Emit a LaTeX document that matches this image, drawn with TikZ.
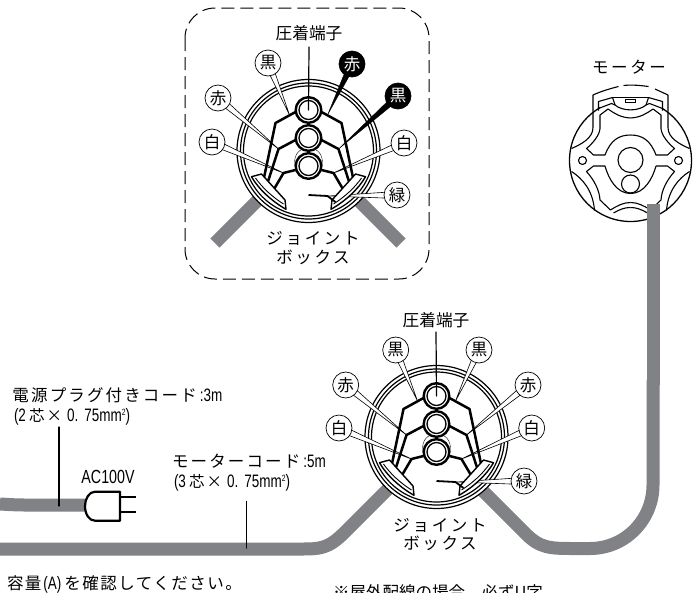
\documentclass[tikz,border=0pt]{standalone}
\usepackage{fontspec}
\setmainfont{Noto Sans CJK JP}
\newfontfamily\jpwide[LetterSpace=16]{Noto Sans CJK JP}
\newfontfamily\jpmid[LetterSpace=13]{Noto Sans CJK JP}
\newfontfamily\jpnote[LetterSpace=9]{Noto Sans CJK JP}
\newfontfamily\latn[FakeStretch=0.75]{Liberation Sans}
\newcommand\nar[1]{{\fontsize{18}{18}\latn #1}}
\newcommand\corelabel[1]{\nar{(#1}\hspace{3pt}{\fontsize{15.5}{16}\selectfont 芯\hspace{2pt}×}\hspace{5pt}\nar{0.\hspace{6pt}75mm\raisebox{6pt}{\fontsize{9}{9}\latn 2})}}
\usetikzlibrary{calc}
\pgfdeclarelayer{back}
\pgfdeclarelayer{mid}
\pgfsetlayers{back,mid,main}
\definecolor{cordgrey}{HTML}{808285}
\tikzset{
  x=1pt,y=-1pt,
  cord/.style={draw=cordgrey,line width=13pt},
  wire/.style={draw=black,line width=2.5pt,line join=round},
  ring/.style={draw=black,line width=1.2pt},
  mot/.style={draw=black,line width=1.1pt,line join=round},
  tag/.style={circle,draw=black,line width=0.7pt,fill=white,minimum size=26pt,inner sep=0pt,font=\fontsize{16.5}{16.5}\selectfont},
  blacktag/.style={circle,draw=black,line width=0.7pt,fill=black,text=white,minimum size=26pt,inner sep=0pt,font=\fontsize{16.5}{16.5}\selectfont},
  lab/.style={inner sep=0pt,outer sep=0pt,font=\fontsize{16.7}{16.7}\selectfont},
  spaced/.style={inner sep=0pt,outer sep=0pt,font=\fontsize{16.5}{16.5}\jpwide},
  leader/.style={draw=black,line width=1.2pt,line cap=round},
  wedgew/.style={fill=white,draw=black,line width=0.6pt,line join=round},
  wedgeb/.style={fill=black,draw=black,line width=0.3pt},
}
\newcommand\halfwires{%
  \draw[wire] (-13,-39) -- (-33,-28) -- (-45,29);
  \draw[wire] (-13,-11) -- (-30,-2) -- (-41,32);
  \draw[wire] (-13,19) -- (-25,22) -- (-35,39);
  \draw[fill=white,line width=1.4pt,line join=round] (-57,25.7) .. controls (-50,38) and (-37,50) .. (-22.5,58.3) -- (-23.5,49) -- (-47,23) -- cycle;
  \draw[line width=0.9pt] (-53,27) .. controls (-46,37) and (-36,46) .. (-25,53);
}
\newcommand\jointbody[1]{%
  \begin{pgfonlayer}{back}
    \draw[ring,fill=white] (0,0) circle[radius=71.5];
    \draw[ring] (0,0) circle[radius=68];
    \draw[ring] (0,0) circle[radius=65];
  \end{pgfonlayer}
  \coordinate (#1LA) at (-19,-36);
  \coordinate (#1LB) at (-30,-2);
  \coordinate (#1LC) at (-25,22);
  \coordinate (#1RA) at (19,-36);
  \coordinate (#1RB) at (30,-2);
  \coordinate (#1RC) at (25,22);
  \coordinate (#1G) at (20,45);
  \coordinate (#1T) at (0,-41);
  \draw[line width=0.4pt] (-14,15) .. controls (-15,2) and (-8,-3) .. (0,-3) .. controls (8,-3) and (15,2) .. (14,15);
  \halfwires
  \begin{scope}[xscale=-1]\halfwires\end{scope}
  \draw[line width=1.8pt] (0,44) -- (19,45) -- (27,51);
  \foreach \yy in {-41,-13,15}{
    \draw[line width=2.4pt,fill=white] (0,\yy) circle[radius=12.8];
    \draw[line width=1.3pt] (0,\yy) circle[radius=9.5];
  }
}
\newcommand\wedgeto[3]{%
  \begin{pgfonlayer}{mid}
  \path[#3] ($(#1)!3.5pt!90:(#2)$) -- (#2) -- ($(#1)!3.5pt!-90:(#2)$) -- cycle;
  \end{pgfonlayer}
}
\newcommand\halfmotor{%
  \draw[mot] (-37.5,-49) -- (-37.5,-33) .. controls (-37.5,-22) and (-50,-16) .. (-59,-12);
  \draw[mot] (-32,-50) -- (-32,-59) -- (-18,-63) -- (-15.5,-55.5);
  \draw[mot] (-32,-52) -- (-19,-57) -- (-15.5,-55.5);
  \draw[mot] (0,-42.5) .. controls (-10,-43) and (-16,-47) .. (-22.5,-51.5) -- (-30.5,-45.5) -- (-30.5,-32) .. controls (-31,-25) and (-38,-17) .. (-44,-12) -- (-37,-5.5) -- (-25.5,-5.5) .. controls (-20,-20) and (-12,-25.5) .. (0,-25.5);
  \draw[mot] (-25.5,5.5) -- (-37,5.5) -- (-44,11) .. controls (-36,20) and (-31,30) .. (-30.5,39.5) -- (-20,49.5) .. controls (-13,45) and (-7,42) .. (0,42);
  \draw[mot] (-25.5,5.5) .. controls (-22,18) and (-14,33) .. (0,33);
  \draw[mot] (-17,52.5) .. controls (-11,49) and (-6,47) .. (0,47);
  \draw[mot] (-59,11) .. controls (-48,18) and (-37.5,30) .. (-36,50);
  \draw[mot] (-48,0) circle[radius=4];
}
\begin{document}
\begin{tikzpicture}
\useasboundingbox (0,0) rectangle (696,592);
\begin{pgfonlayer}{back}
  \fill[white] (0,0) rectangle (696,592);
  \draw[line width=1pt,dash pattern=on 13pt off 6pt,rounded corners=30pt] (185,8) rectangle (429,279);
  \draw[cord] (215,243) -- (270,188);
  \draw[cord] (401,243) -- (345,187);
  \draw[cord] (0,549) -- (300,549) .. controls (320,549) and (328,549) .. (345,532) -- (400,477);
  \draw[cord] (470,478) -- (525,533) .. controls (540,548.5) and (550,548.5) .. (575,548.5) -- (590,548.5) .. controls (625,548.5) and (653,520) .. (653,485) -- (653,380);
  \draw[cord] (0,504) .. controls (10,504.5) and (15,505) .. (25,505) -- (90,505);
\end{pgfonlayer}
\begin{scope}[shift={(308.5,151)}]\jointbody{a}\end{scope}
\begin{scope}[shift={(436.5,437)}]\jointbody{b}\end{scope}

\begin{scope}[shift={(630.5,160.5)}]
  \draw[line width=1.3pt,fill=white] (0,0) circle[radius=61];
  \fill[white] (-31,-66) rectangle (31,-44);
  \halfmotor
  \begin{scope}[xscale=-1]\halfmotor\end{scope}
  \draw[mot] (-18,-63) -- (18,-63);
  \draw[mot] (-15.5,-55.5) .. controls (-8,-49) and (8,-49) .. (15.5,-55.5);
  \draw[mot] (-37.5,-49) -- (-37.5,-65.5) .. controls (-30,-69) and (-20,-72) .. (-12,-74);
  \draw[mot] (-7,-75) .. controls (2,-76) and (10,-75) .. (18,-74);
  \draw[mot] (24.5,-71.5) -- (37.5,-65.5) -- (37.5,-49);
  \draw[line width=0.8pt] (-5,-61.5) rectangle (5,-57.8);
  \draw[mot] (0,-0.5) circle[radius=12.5];
  \draw[mot] (0,23.5) circle[radius=9];
\end{scope}
\fill[cordgrey] (646.5,204) rectangle (659.5,385);

\node[lab] (pa) at (309,33) {圧着端子};
\draw[leader] (pa.south |- 0,47) -- (aT);
\node[tag] (a1) at (268,63) {黒};
\node[tag] (a2) at (218,98) {赤};
\node[tag] (a3) at (212,142) {白};
\node[blacktag] (a4) at (352,64) {赤};
\node[blacktag] (a5) at (398,96) {黒};
\node[tag] (a6) at (404,143) {白};
\node[tag] (a7) at (397,195) {緑};
\wedgeto{a1}{aLA}{wedgew}
\wedgeto{a2}{aLB}{wedgew}
\wedgeto{a3}{aLC}{wedgew}
\wedgeto{a4}{aRA}{wedgeb}
\wedgeto{a5}{aRB}{wedgeb}
\wedgeto{a6}{aRC}{wedgew}
\wedgeto{a7}{aG}{wedgew}
\node[spaced] (ja) at (313,238) {ジョイント};
\node[spaced] (ka) at (313,257) {ボックス};

\node[lab] (pb) at (436,320) {圧着端子};
\draw[leader] (pb.south |- 0,332) -- (bT);
\node[tag] (b1) at (395.7,350) {黒};
\node[tag] (b2) at (345.7,385) {赤};
\node[tag] (b3) at (339,428) {白};
\node[tag] (b4) at (479,350) {黒};
\node[tag] (b5) at (528,385) {赤};
\node[tag] (b6) at (531.7,428) {白};
\node[tag] (b7) at (524,481) {緑};
\wedgeto{b1}{bLA}{wedgew}
\wedgeto{b2}{bLB}{wedgew}
\wedgeto{b3}{bLC}{wedgew}
\wedgeto{b4}{bRA}{wedgew}
\wedgeto{b5}{bRB}{wedgew}
\wedgeto{b6}{bRC}{wedgew}
\wedgeto{b7}{bG}{wedgew}
\node[spaced] (jb) at (440,525) {ジョイント};
\node[spaced] (kb) at (440,543) {ボックス};

\node[spaced] (ml) at (629,67) {モーター};

\draw[line width=2.2pt,fill=white,line join=round] (120,491.7) -- (95,491.7) .. controls (89,491.7) and (85,499) .. (85,506) .. controls (85,514) and (89,520.7) .. (95,520.7) -- (120,520.7) -- cycle;
\coordinate (plugA) at (120,497.3);
\coordinate (plugB) at (120,512.3);
\draw[line width=2.2pt] (plugA) -- ++(16,0);
\draw[line width=2.2pt] (plugB) -- ++(16,0);
\node[lab,font=\fontsize{19}{19}\latn] (ac) at (108,477) {AC100V};

\node[lab,anchor=west,font=\fontsize{16.5}{16.5}\jpmid] (c1) at (12.5,395) {電源プラグ付きコード\hspace{3pt}\nar{:3m}};
\node[lab,anchor=west] (c2) at (14,417) {\corelabel{2}};
\coordinate (c1end) at (59,506);
\draw[leader] (59,427) -- (c1end);
\node[lab,anchor=west,font=\fontsize{16.5}{16.5}\jpmid] (m1) at (172,461) {モーターコード\hspace{3pt}\nar{:5m}};
\node[lab,anchor=west] (m2) at (174,483) {\corelabel{3}};
\coordinate (m1end) at (246.7,548);
\draw[leader] (246.7,501.5) -- (m1end);

\node[lab,anchor=west,font=\fontsize{16.5}{16.5}\jpnote] (n1) at (7,584) {容量\nar{\hspace{2pt}(A)\hspace{3pt}}を確認してください。};
\node[lab,anchor=west,font=\fontsize{16.5}{16.5}\selectfont] (n2) at (333,592) {※屋外配線の場合、必ずU字};
\end{tikzpicture}
\end{document}
